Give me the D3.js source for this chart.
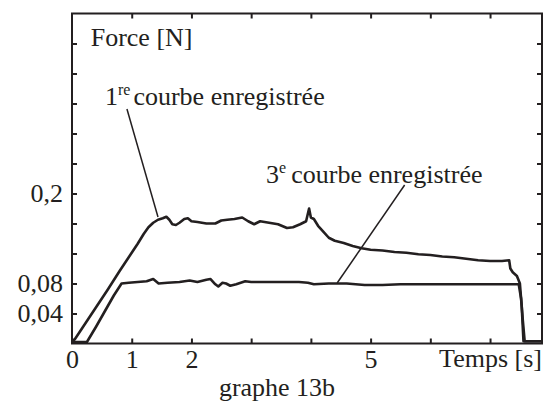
<!DOCTYPE html>
<html>
<head>
<meta charset="utf-8">
<script src="https://cdn.jsdelivr.net/npm/d3@7"></script>
<style>
  html, body { margin: 0; padding: 0; background: #fff; }
  svg { display: block; }
  svg text { fill: #231f20; }
</style>
</head>
<body>
<svg id="chart" width="546" height="403"></svg>
<script>
const timeFirst  = [0, 0.05, 0.2, 0.4, 0.6, 0.8, 1.0, 1.1, 1.2, 1.28, 1.36, 1.44, 1.52, 1.58, 1.63, 1.68, 1.74, 1.8, 1.88, 1.94, 2.0, 2.1, 2.25, 2.4, 2.5, 2.6, 2.72, 2.85, 2.95, 3.05, 3.15, 3.3, 3.45, 3.6, 3.7, 3.82, 3.92, 3.97, 4.0, 4.05, 4.12, 4.2, 4.3, 4.4, 4.55, 4.7, 4.85, 5.0, 5.2, 5.4, 5.6, 5.8, 6.0, 6.2, 6.4, 6.6, 6.8, 7.0, 7.2, 7.32, 7.34, 7.38, 7.45, 7.5, 7.53, 7.56, 7.87];
const forceFirst = [0.002, 0.006, 0.024, 0.048, 0.072, 0.097, 0.121, 0.133, 0.146, 0.155, 0.161, 0.165, 0.167, 0.169, 0.165, 0.159, 0.158, 0.161, 0.166, 0.167, 0.163, 0.162, 0.16, 0.16, 0.164, 0.165, 0.166, 0.168, 0.163, 0.159, 0.163, 0.161, 0.159, 0.154, 0.155, 0.159, 0.163, 0.18, 0.168, 0.166, 0.157, 0.15, 0.141, 0.137, 0.134, 0.13, 0.127, 0.125, 0.124, 0.122, 0.121, 0.119, 0.118, 0.116, 0.115, 0.113, 0.111, 0.11, 0.11, 0.111, 0.1, 0.095, 0.09, 0.08, 0.05, 0.003, 0.003];

// Time [s] / force [N] of the 3rd recorded curve.
const timeThird  = [0, 0.25, 0.4, 0.55, 0.7, 0.83, 0.95, 1.1, 1.25, 1.36, 1.45, 1.6, 1.8, 1.97, 2.1, 2.25, 2.32, 2.4, 2.45, 2.52, 2.58, 2.65, 2.75, 2.9, 3.0, 3.2, 3.5, 3.8, 3.95, 4.05, 4.3, 4.6, 4.9, 5.2, 5.5, 5.8, 6.1, 6.4, 6.7, 7.0, 7.3, 7.48, 7.52, 7.55, 7.58, 7.87];
const forceThird = [0.002, 0.002, 0.022, 0.043, 0.064, 0.08, 0.081, 0.082, 0.083, 0.086, 0.08, 0.081, 0.082, 0.084, 0.082, 0.085, 0.086, 0.079, 0.076, 0.081, 0.08, 0.077, 0.079, 0.083, 0.082, 0.082, 0.082, 0.082, 0.081, 0.079, 0.08, 0.08, 0.078, 0.078, 0.079, 0.079, 0.079, 0.079, 0.079, 0.079, 0.079, 0.079, 0.06, 0.03, 0.003, 0.003];

// Tick marks and the few labels that are printed.
const xTickValues = [0, 1, 2, 3, 4, 5, 6, 7];
const xTickLabels = ['0', '1', '2', '', '', '5', '', ''];
const yTickValues = [0.04, 0.08, 0.12, 0.16, 0.2, 0.24, 0.28, 0.32, 0.36, 0.4];
const yTickLabels = ['0,04', '0,08', '', '', '0,2', '', '', '', '', ''];

const INK = '#231f20';
const SERIF = 'Liberation Serif, LiberationSerif, Tinos, Times New Roman, Times, Nimbus Roman, FreeSerif, Noto Serif, DejaVu Serif, serif';
const margin = { top: 13.5, right: 4, bottom: 59.5, left: 72 };
const width  = 546;
const height = 403;

const svg = d3.select('#chart');

const x = d3.scaleLinear().domain([0, 7.87]).range([margin.left, width - margin.right]);
const y = d3.scaleLinear().domain([0, 0.44]).range([height - margin.bottom, margin.top]);

const fmtX = d => xTickLabels[xTickValues.indexOf(d)];
const fmtY = d => yTickLabels[yTickValues.findIndex(v => Math.abs(v - d) < 1e-9)];

// Axes: ticks point inwards, on all four sides.
const gBottom = svg.append('g')
    .attr('transform', `translate(0,${y(0)})`)
    .call(d3.axisBottom(x).tickValues(xTickValues).tickSize(-5).tickPadding(6).tickFormat(fmtX));
const gLeft = svg.append('g')
    .attr('transform', `translate(${x(0)},0)`)
    .call(d3.axisLeft(y).tickValues(yTickValues).tickSize(-5).tickPadding(9).tickFormat(fmtY));
const gTop = svg.append('g')
    .attr('transform', `translate(0,${y(0.44)})`)
    .call(d3.axisTop(x).tickValues(xTickValues.slice(1)).tickSize(-5).tickFormat(''));
const gRight = svg.append('g')
    .attr('transform', `translate(${x(7.87)},0)`)
    .call(d3.axisRight(y).tickValues(yTickValues).tickSize(-5).tickFormat(''));

[gBottom, gLeft, gTop, gRight].forEach(g => {
    g.attr('font-family', null).attr('font-size', null);
    g.select('.domain').remove();
    g.selectAll('line').attr('stroke', INK).attr('stroke-width', 2);
    g.selectAll('text').attr('fill', INK).style('font-family', SERIF).style('font-size', '26px');
});

// Plot frame.
svg.append('rect')
    .attr('x', x(0)).attr('y', y(0.44))
    .attr('width', x(7.87) - x(0)).attr('height', y(0) - y(0.44))
    .attr('fill', 'none').attr('stroke', INK).attr('stroke-width', 2);

const line = d3.line().x(d => x(d[0])).y(d => y(d[1]));

// Draw both recordings.
[[timeFirst, forceFirst], [timeThird, forceThird]].forEach(([ts, fs]) => {
    svg.append('path')
        .datum(d3.zip(ts, fs))
        .attr('d', line)
        .attr('fill', 'none')
        .attr('stroke', INK)
        .attr('stroke-width', 2.6)
        .attr('stroke-linejoin', 'round');
});

// Leader lines for the two annotations.
const leaders = [[[0.92, 0.3127], [1.44, 0.1687]], [[5.57, 0.2113], [4.44, 0.0807]]];
leaders.forEach(pts => {
    svg.append('path').datum(pts).attr('d', line)
        .attr('fill', 'none').attr('stroke', INK).attr('stroke-width', 1.5);
});

// Labels.
const labels = svg.append('g').style('font-family', SERIF).style('font-size', '26px');

labels.append('text').attr('x', x(0.313)).attr('y', y(0.3967)).text('Force [N]');

const t1 = labels.append('text').attr('x', x(0.552)).attr('y', y(0.318));
t1.append('tspan').text('1');
t1.append('tspan').style('font-size', '16px').attr('dy', -10).text('re');
t1.append('tspan').attr('dy', 10).attr('dx', 3).text('courbe enregistrée');

const t3 = labels.append('text').attr('x', x(3.25)).attr('y', y(0.2144));
t3.append('tspan').text('3');
t3.append('tspan').style('font-size', '16px').attr('dy', -10).text('e');
t3.append('tspan').attr('dy', 10).attr('dx', 5).text('courbe enregistrée');

labels.append('text').attr('x', x(7.87)).attr('y', 367).attr('text-anchor', 'end').text('Temps [s]');
labels.append('text').attr('x', 277).attr('y', 396).attr('text-anchor', 'middle').text('graphe 13b');
</script>
</body>
</html>
